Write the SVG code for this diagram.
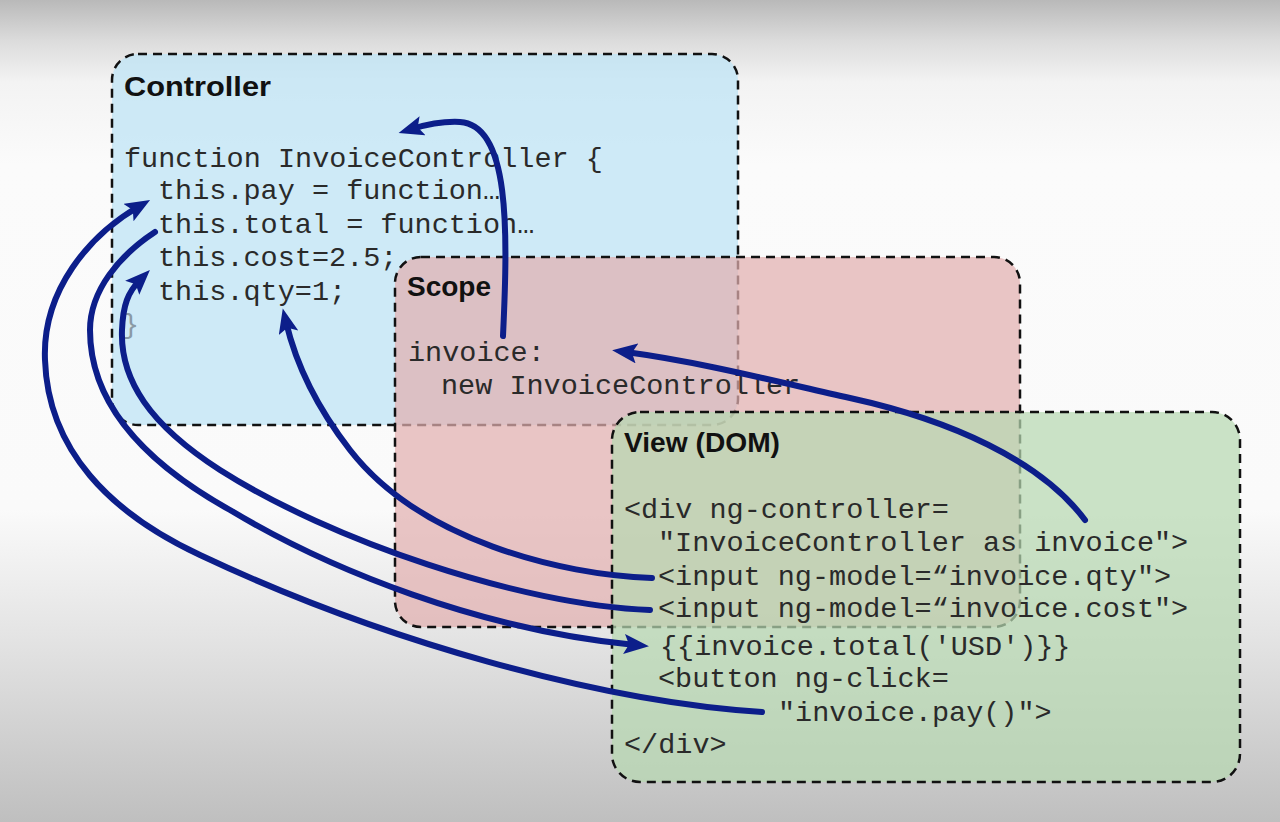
<svg xmlns="http://www.w3.org/2000/svg" width="1280" height="822" viewBox="0 0 1280 822">
  <defs>
    <linearGradient id="bg" x1="0" y1="0" x2="0" y2="1">
      <stop offset="0" stop-color="#b9b9b9"/>
      <stop offset="0.05" stop-color="#dcdcdc"/>
      <stop offset="0.1" stop-color="#f3f3f3"/>
      <stop offset="0.2" stop-color="#fbfbfb"/>
      <stop offset="0.62" stop-color="#fafafa"/>
      <stop offset="0.78" stop-color="#e3e3e3"/>
      <stop offset="1" stop-color="#bfbfbf"/>
    </linearGradient>
    <marker id="ah" markerUnits="userSpaceOnUse" markerWidth="28" markerHeight="22" viewBox="0 0 28 22" refX="11" refY="10" orient="auto">
      <path d="M0,0 L25,10 L0,20 L5,10 z" fill="#0c1e8a"/>
    </marker>
  </defs>
  <style>
    .box { stroke: #111; stroke-width: 2.5; stroke-dasharray: 9 6; }
    .title { font-family: "Liberation Sans", Arial, sans-serif; font-weight: bold; font-size: 28px; fill: #111; }
    .code { font-family: "Liberation Mono", "Courier New", monospace; font-size: 28.5px; fill: #2a2a2a; }
    .conn { fill: none; stroke: #0c1e8a; stroke-width: 6; stroke-linecap: round; }
  </style>
  <rect x="0" y="0" width="1280" height="822" fill="url(#bg)"/>

  <g id="controller">
    <rect class="box" x="112" y="54" width="626" height="371" rx="26" fill="rgb(191,228,246)" fill-opacity="0.75"/>
    <text class="title" x="124" y="96" textLength="147" lengthAdjust="spacingAndGlyphs">Controller</text>
    <text class="code" x="124" y="167">function InvoiceController {</text>
    <text class="code" x="158" y="199">this.pay = function…</text>
    <text class="code" x="158" y="233">this.total = function…</text>
    <text class="code" x="158" y="266">this.cost=2.5;</text>
    <text class="code" x="158" y="300">this.qty=1;</text>
    <text class="code" x="122" y="333" style="fill:#8a9aa5">}</text>
  </g>

  <g id="scope">
    <rect class="box" x="395" y="257" width="625" height="370" rx="26" fill="rgb(226,176,176)" fill-opacity="0.72"/>
    <text class="title" x="407" y="296" textLength="84" lengthAdjust="spacingAndGlyphs">Scope</text>
    <text class="code" x="408" y="361">invoice:</text>
    <text class="code" x="441" y="394">new InvoiceController</text>
  </g>

  <g id="view">
    <rect class="box" x="612" y="412" width="628" height="370" rx="28" fill="rgb(183,216,177)" fill-opacity="0.72"/>
    <text class="title" x="624" y="452" textLength="156" lengthAdjust="spacingAndGlyphs">View (DOM)</text>
    <text class="code" x="624" y="518">&lt;div ng-controller=</text>
    <text class="code" x="658" y="551">"InvoiceController as invoice"&gt;</text>
    <text class="code" x="658" y="585">&lt;input ng-model=“invoice.qty"&gt;</text>
    <text class="code" x="658" y="617">&lt;input ng-model=“invoice.cost"&gt;</text>
    <text class="code" x="660" y="655">{{invoice.total('USD')}}</text>
    <text class="code" x="658" y="687">&lt;button ng-click=</text>
    <text class="code" x="778" y="721">"invoice.pay()"&gt;</text>
    <text class="code" x="624" y="753">&lt;/div&gt;</text>
  </g>

  <g id="connectors">
    <path class="conn" d="M503,336 C508,230 510,125 460,122 C440,121 425,125 412,129" marker-end="url(#ah)"/>
    <path class="conn" d="M1085,520 C1040,460 950,420 850,398 C770,380 700,362 626,352" marker-end="url(#ah)"/>
    <path class="conn" d="M652,578 C560,575 420,540 350,450 C315,405 295,360 286,322" marker-end="url(#ah)"/>
    <path class="conn" d="M650,610 C520,605 330,540 220,470 C150,425 120,380 122,330 C123,305 128,292 140,280" marker-end="url(#ah)"/>
    <path class="conn" d="M155,232 C120,255 90,290 90,330 C90,400 140,460 230,510 C330,570 480,630 635,645" marker-end="url(#ah)"/>
    <path class="conn" d="M762,712 C600,702 380,640 200,555 C110,513 48,450 45,360 C42,290 90,235 138,207" marker-end="url(#ah)"/>
  </g>
</svg>
